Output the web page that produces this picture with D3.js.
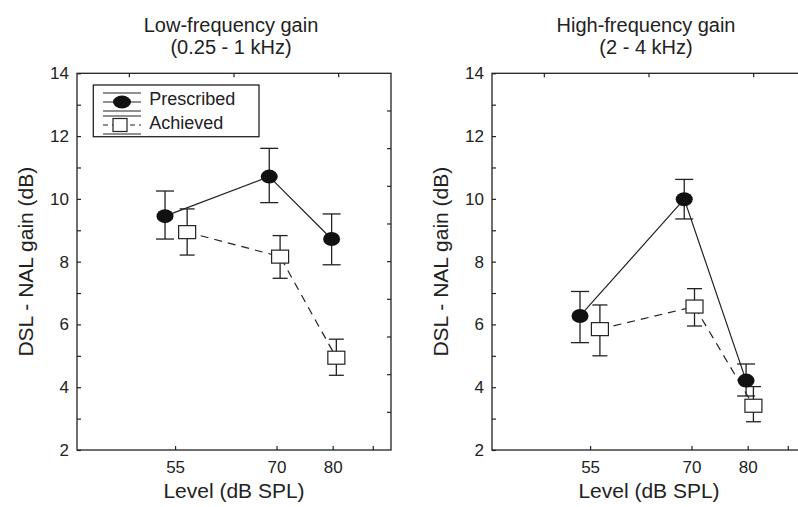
<!DOCTYPE html>
<html>
<head>
<meta charset="utf-8">
<script src="https://cdn.jsdelivr.net/npm/d3@7"></script>
<style>
  body { margin: 0; background: #fff; }
  svg { display: block; font-family: "Liberation Sans", Arial, Helvetica, sans-serif; }
</style>
</head>
<body>
<svg id="chart" width="798" height="507"></svg>
<script>
// panel titles
const titles = [
  ["Low-frequency gain", "(0.25 - 1 kHz)"],
  ["High-frequency gain", "(2 - 4 kHz)"]
];

// x positions (dB SPL) of the markers
const prescribedLevels = [[53.7, 68.8, 79.8], [53.7, 68.8, 79.7]];
const achievedLevels   = [[56.6, 70.6, 80.7], [56.3, 70.5, 81.1]];

// prescribed (filled circles)
const prescribedMean = [[9.45, 10.71, 8.72], [6.27, 9.99, 4.21]];
const prescribedHi   = [[10.25, 11.61, 9.52], [7.05, 10.62, 4.74]];
const prescribedLo   = [[8.72, 9.88, 7.9], [5.42, 9.36, 3.72]];

// achieved (open squares)
const achievedMean = [[8.94, 8.16, 4.94], [5.85, 6.57, 3.41]];
const achievedHi   = [[9.68, 8.83, 5.53], [6.62, 7.14, 4.02]];
const achievedLo   = [[8.21, 7.47, 4.38], [5.0, 5.95, 2.9]];

const xTicks = [55, 70, 80, 88];
const xLabels = ["55", "70", "80", ""];
const yTicks = d3.range(2, 15, 1);

const ink = "#222";
const svg = d3.select("#chart");

// plot box of the left panel; the right panel is shifted by dx
const box = {left: 77, right: 391, top: 73.3, bottom: 450};
const dx = 415;

const x = d3.scaleLog().domain([43.56, 91.9]).range([box.left, box.right]);
const y = d3.scaleLinear().domain([2, 14]).range([box.bottom, box.top]);

function drawPanel(i) {
  const g = svg.append("g").attr("transform", `translate(${i * dx},0)`);

  // title
  const t = g.append("text")
    .attr("text-anchor", "middle")
    .attr("fill", ink)
    .style("font-size", "20px");
  t.append("tspan").attr("x", 231).attr("y", 31.5).text(titles[i][0]);
  t.append("tspan").attr("x", 231).attr("y", 53.5).text(titles[i][1]);

  // frame
  g.append("rect")
    .attr("x", box.left).attr("y", box.top)
    .attr("width", box.right - box.left).attr("height", box.bottom - box.top)
    .attr("fill", "none").attr("stroke", ink).attr("stroke-width", 1.3);

  // top spine ticks (unlabelled)
  const w = box.right - box.left;
  [1 / 6, 0.5, 5 / 6].forEach(f => {
    g.append("line")
      .attr("x1", box.left + f * w).attr("x2", box.left + f * w)
      .attr("y1", box.top).attr("y2", box.top + 4)
      .attr("stroke", ink).attr("stroke-width", 1.2);
  });
  // right spine ticks (unlabelled)
  const h = box.bottom - box.top;
  d3.range(1, 10).forEach(k => {
    g.append("line")
      .attr("x1", box.right).attr("x2", box.right - 4)
      .attr("y1", box.top + k * h / 10).attr("y2", box.top + k * h / 10)
      .attr("stroke", ink).attr("stroke-width", 1.2);
  });

  // x axis
  const xa = g.append("g")
    .attr("transform", `translate(0,${box.bottom})`)
    .call(d3.axisBottom(x).tickValues(xTicks)
      .tickFormat((d, j) => xLabels[j])
      .tickSizeInner(-4).tickSizeOuter(0).tickPadding(11));
  xa.select(".domain").remove();
  xa.selectAll("line").attr("stroke", ink).attr("stroke-width", 1.2);
  xa.selectAll("text").attr("fill", ink).style("font-size", "17px");

  // y axis
  const ya = g.append("g")
    .attr("transform", `translate(${box.left},0)`)
    .call(d3.axisLeft(y).tickValues(yTicks)
      .tickFormat(d => d % 2 === 0 ? d : "")
      .tickSizeInner(-4).tickSizeOuter(0).tickPadding(8));
  ya.select(".domain").remove();
  ya.selectAll("line").attr("stroke", ink).attr("stroke-width", 1.2);
  ya.selectAll("text").attr("fill", ink).style("font-size", "17px");

  // axis titles
  g.append("text")
    .attr("x", 234).attr("y", 498)
    .attr("text-anchor", "middle").attr("fill", ink)
    .style("font-size", "21px")
    .text("Level (dB SPL)");
  g.append("text")
    .attr("transform", `translate(33,${(box.top + box.bottom) / 2}) rotate(-90)`)
    .attr("text-anchor", "middle").attr("fill", ink)
    .style("font-size", "21px")
    .text("DSL - NAL gain (dB)");

  const pres = prescribedLevels[i].map((lv, j) => ({
    lv, m: prescribedMean[i][j], hi: prescribedHi[i][j], lo: prescribedLo[i][j]
  }));
  const ach = achievedLevels[i].map((lv, j) => ({
    lv, m: achievedMean[i][j], hi: achievedHi[i][j], lo: achievedLo[i][j]
  }));

  const line = d3.line().x(d => x(d.lv)).y(d => y(d.m));

  // connecting lines
  g.append("path").datum(ach).attr("d", line)
    .attr("fill", "none").attr("stroke", ink).attr("stroke-width", 1.2)
    .attr("stroke-dasharray", "8,6");
  g.append("path").datum(pres).attr("d", line)
    .attr("fill", "none").attr("stroke", ink).attr("stroke-width", 1.2);

  // error bars
  function errorBars(data, cap) {
    const eb = g.append("g").attr("stroke", ink).attr("stroke-width", 1.3);
    data.forEach(d => {
      const cx = x(d.lv);
      eb.append("line").attr("x1", cx).attr("x2", cx).attr("y1", y(d.hi)).attr("y2", y(d.lo));
      eb.append("line").attr("x1", cx - cap / 2).attr("x2", cx + cap / 2).attr("y1", y(d.hi)).attr("y2", y(d.hi));
      eb.append("line").attr("x1", cx - cap / 2).attr("x2", cx + cap / 2).attr("y1", y(d.lo)).attr("y2", y(d.lo));
    });
  }
  errorBars(ach, 15);
  errorBars(pres, 18);

  // markers
  g.selectAll(".sq").data(ach).enter().append("rect")
    .attr("x", d => x(d.lv) - 8.5).attr("y", d => y(d.m) - 6.5)
    .attr("width", 17).attr("height", 13)
    .attr("fill", "#fff").attr("stroke", ink).attr("stroke-width", 1.2);
  g.selectAll(".dot").data(pres).enter().append("ellipse")
    .attr("cx", d => x(d.lv)).attr("cy", d => y(d.m))
    .attr("rx", 8.5).attr("ry", 7)
    .attr("fill", "#111");
}

drawPanel(0);
drawPanel(1);

// legend (left panel only)
const lg = svg.append("g");
lg.append("rect")
  .attr("x", 93.3).attr("y", 85).attr("width", 165.7).attr("height", 51.7)
  .attr("fill", "#fff").attr("stroke", ink).attr("stroke-width", 1.3);

// prescribed symbol
[93, 111].forEach(yy => lg.append("line")
  .attr("x1", 103).attr("x2", 141).attr("y1", yy).attr("y2", yy)
  .attr("stroke", ink).attr("stroke-width", 1.2));
lg.append("line").attr("x1", 103).attr("x2", 141).attr("y1", 102).attr("y2", 102)
  .attr("stroke", ink).attr("stroke-width", 1.2);
lg.append("ellipse").attr("cx", 122).attr("cy", 102).attr("rx", 9).attr("ry", 6.5).attr("fill", "#111");

// achieved symbol
[116, 134].forEach(yy => lg.append("line")
  .attr("x1", 103).attr("x2", 141).attr("y1", yy).attr("y2", yy)
  .attr("stroke", ink).attr("stroke-width", 1.2));
lg.append("line").attr("x1", 103).attr("x2", 141).attr("y1", 125).attr("y2", 125)
  .attr("stroke", ink).attr("stroke-width", 1.2).attr("stroke-dasharray", "5,4");
lg.append("rect").attr("x", 113).attr("y", 118.5).attr("width", 14).attr("height", 13)
  .attr("fill", "#fff").attr("stroke", ink).attr("stroke-width", 1.2);

lg.append("text").attr("x", 149.3).attr("y", 104.5).attr("fill", ink)
  .style("font-size", "18px").text("Prescribed");
lg.append("text").attr("x", 149.3).attr("y", 128.5).attr("fill", ink)
  .style("font-size", "18px").text("Achieved");
</script>
</body>
</html>
